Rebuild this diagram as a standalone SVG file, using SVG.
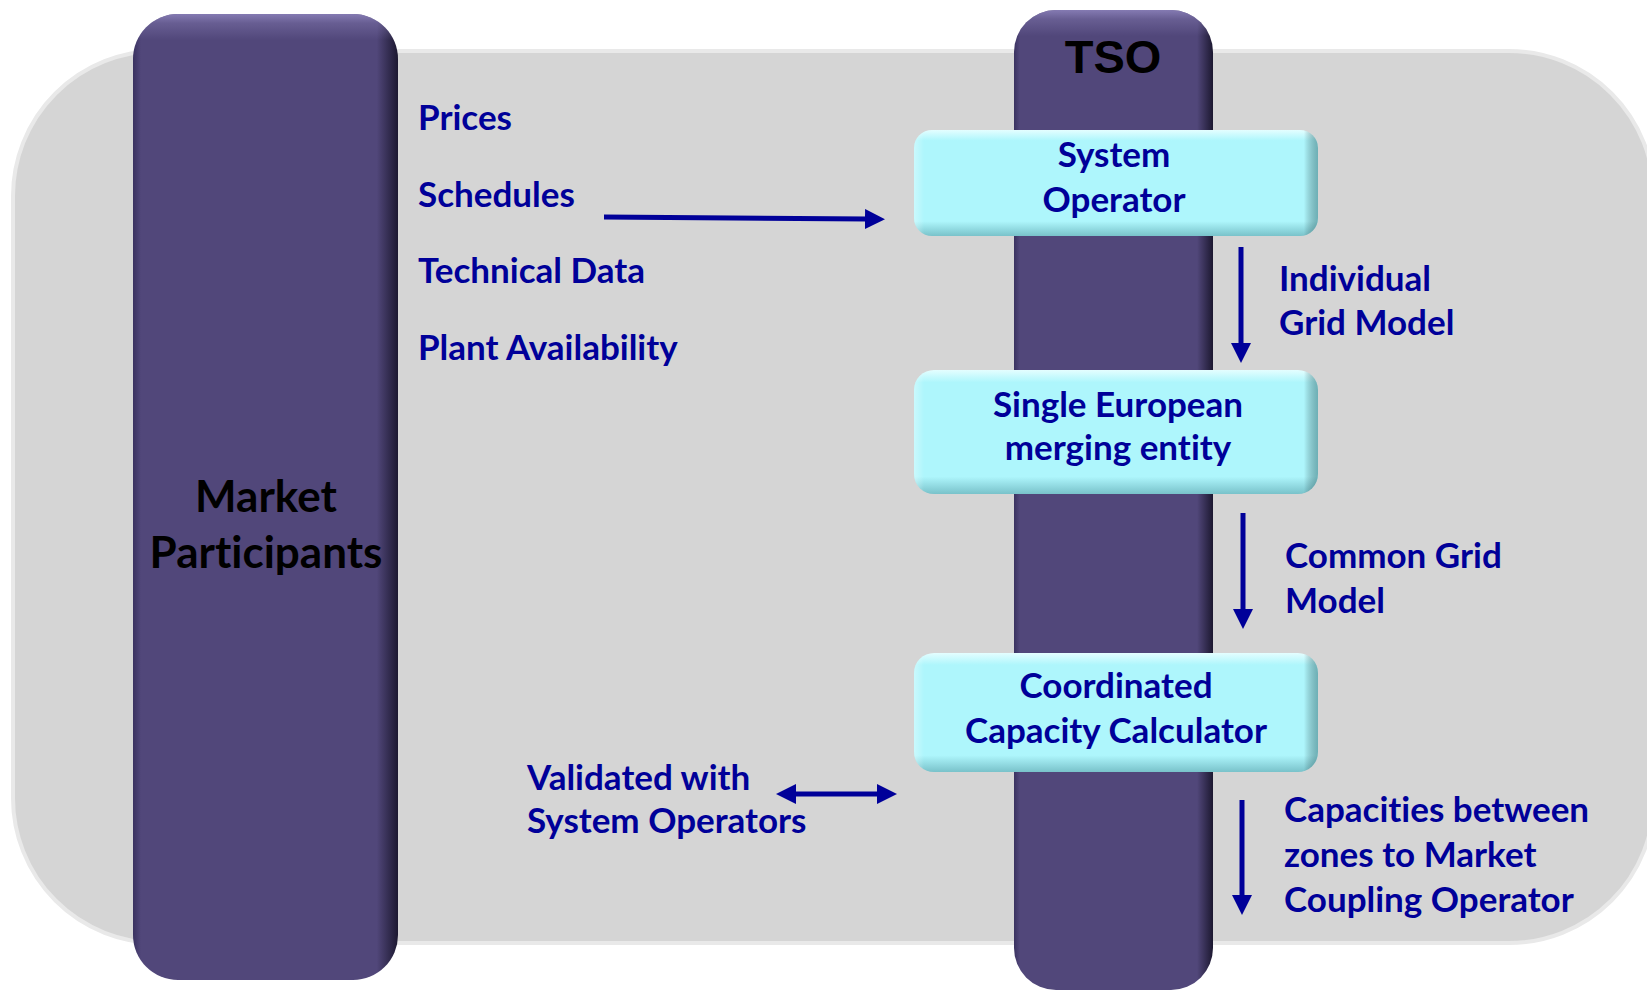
<svg xmlns="http://www.w3.org/2000/svg" width="1647" height="991" viewBox="0 0 1647 991">
  <style>
    .lbl { font-family: Lato, "Open Sans", "DejaVu Sans", sans-serif; font-weight: 700; font-size: 35px; fill: #000099; font-variant-ligatures: none; }
    .mid { text-anchor: middle; }
    .big { font-family: Lato, "Open Sans", "DejaVu Sans", sans-serif; font-weight: 700; font-size: 44px; fill: #000000; text-anchor: middle; font-variant-ligatures: none; }
    .tso { font-family: "Liberation Sans", Arial, sans-serif; font-weight: 700; font-size: 47px; fill: #000000; text-anchor: middle; }
    .conn { stroke: #000099; stroke-width: 5; fill: none; }
  </style>
  <defs>
    <linearGradient id="purpleH" x1="0" y1="0" x2="1" y2="0">
      <stop offset="0" stop-color="#3a3260"/>
      <stop offset="0.03" stop-color="#51477a"/>
      <stop offset="0.92" stop-color="#51477a"/>
      <stop offset="1" stop-color="#1c1830"/>
    </linearGradient>
    <linearGradient id="purpleTop1" gradientUnits="userSpaceOnUse" x1="0" y1="14" x2="0" y2="40">
      <stop offset="0" stop-color="#8a80b8" stop-opacity="0.9"/>
      <stop offset="0.35" stop-color="#8a80b8" stop-opacity="0.4"/>
      <stop offset="1" stop-color="#8a80b8" stop-opacity="0"/>
    </linearGradient>
    <linearGradient id="purpleTop2" gradientUnits="userSpaceOnUse" x1="0" y1="10" x2="0" y2="36">
      <stop offset="0" stop-color="#8a80b8" stop-opacity="0.9"/>
      <stop offset="0.35" stop-color="#8a80b8" stop-opacity="0.4"/>
      <stop offset="1" stop-color="#8a80b8" stop-opacity="0"/>
    </linearGradient>
    <linearGradient id="cyanV" x1="0" y1="0" x2="0" y2="1">
      <stop offset="0" stop-color="#e4feff"/>
      <stop offset="0.1" stop-color="#aef6fc"/>
      <stop offset="0.86" stop-color="#aef6fc"/>
      <stop offset="1" stop-color="#79c2ca"/>
    </linearGradient>
    <linearGradient id="cyanH" x1="0" y1="0" x2="1" y2="0">
      <stop offset="0" stop-color="#ffffff" stop-opacity="0.35"/>
      <stop offset="0.025" stop-color="#ffffff" stop-opacity="0"/>
      <stop offset="0.965" stop-color="#000000" stop-opacity="0"/>
      <stop offset="1" stop-color="#1d5a60" stop-opacity="0.45"/>
    </linearGradient>
    <marker id="ah" viewBox="0 0 20 20" refX="2" refY="10" markerWidth="20" markerHeight="20" markerUnits="userSpaceOnUse" orient="auto-start-reverse">
      <path d="M0,0 L20,10 L0,20 z" fill="#000099"/>
    </marker>
  </defs>

  <g id="background">
    <rect x="13" y="51" width="1641" height="892" rx="145" ry="145" fill="#d5d5d5" stroke="#e9e9e9" stroke-width="4"/>
  </g>

  <g id="market-participants">
    <rect x="133" y="14" width="265" height="966" rx="45" ry="45" fill="url(#purpleH)"/>
    <rect x="133" y="14" width="265" height="966" rx="45" ry="45" fill="url(#purpleTop1)"/>
    <text class="big" x="266" y="512">Market</text>
    <text class="big" x="266" y="568">Participants</text>
  </g>

  <g id="tso">
    <rect x="1014" y="10" width="199" height="980" rx="42" ry="42" fill="url(#purpleH)"/>
    <rect x="1014" y="10" width="199" height="980" rx="42" ry="42" fill="url(#purpleTop2)"/>
    <text class="tso" x="1113" y="73">TSO</text>
  </g>

  <g id="inputs">
    <text class="lbl" x="418" y="130">Prices</text>
    <text class="lbl" x="418" y="207">Schedules</text>
    <text class="lbl" x="418" y="283">Technical Data</text>
    <text class="lbl" x="418" y="360">Plant Availability</text>
  </g>

  <g id="system-operator">
    <rect x="914" y="130" width="404" height="106" rx="18" ry="18" fill="url(#cyanV)"/>
    <rect x="914" y="130" width="404" height="106" rx="18" ry="18" fill="url(#cyanH)"/>
    <text class="lbl mid" x="1114" y="167">System</text>
    <text class="lbl mid" x="1114" y="212">Operator</text>
  </g>

  <g id="single-european-merging-entity">
    <rect x="914" y="370" width="404" height="124" rx="20" ry="20" fill="url(#cyanV)"/>
    <rect x="914" y="370" width="404" height="124" rx="20" ry="20" fill="url(#cyanH)"/>
    <text class="lbl mid" x="1118" y="417">Single European</text>
    <text class="lbl mid" x="1118" y="460">merging entity</text>
  </g>

  <g id="coordinated-capacity-calculator">
    <rect x="914" y="653" width="404" height="119" rx="20" ry="20" fill="url(#cyanV)"/>
    <rect x="914" y="653" width="404" height="119" rx="20" ry="20" fill="url(#cyanH)"/>
    <text class="lbl mid" x="1116" y="698">Coordinated</text>
    <text class="lbl mid" x="1116" y="743">Capacity Calculator</text>
  </g>

  <g id="side-labels">
    <text class="lbl" x="1279" y="291">Individual</text>
    <text class="lbl" x="1279" y="335">Grid Model</text>
    <text class="lbl" x="1285" y="568">Common Grid</text>
    <text class="lbl" x="1285" y="613">Model</text>
    <text class="lbl" x="1284" y="822">Capacities between</text>
    <text class="lbl" x="1284" y="867">zones to Market</text>
    <text class="lbl" x="1284" y="912">Coupling Operator</text>
    <text class="lbl" x="527" y="790">Validated with</text>
    <text class="lbl" x="527" y="833">System Operators</text>
  </g>

  <g id="connectors">
    <line class="conn" x1="604" y1="217" x2="867" y2="219" marker-end="url(#ah)"/>
    <line class="conn" x1="1241" y1="247" x2="1241" y2="345" marker-end="url(#ah)"/>
    <line class="conn" x1="1243" y1="513" x2="1243" y2="611" marker-end="url(#ah)"/>
    <line class="conn" x1="1242" y1="800" x2="1242" y2="897" marker-end="url(#ah)"/>
    <line class="conn" x1="794" y1="794" x2="879" y2="794" marker-start="url(#ah)" marker-end="url(#ah)"/>
  </g>
</svg>
